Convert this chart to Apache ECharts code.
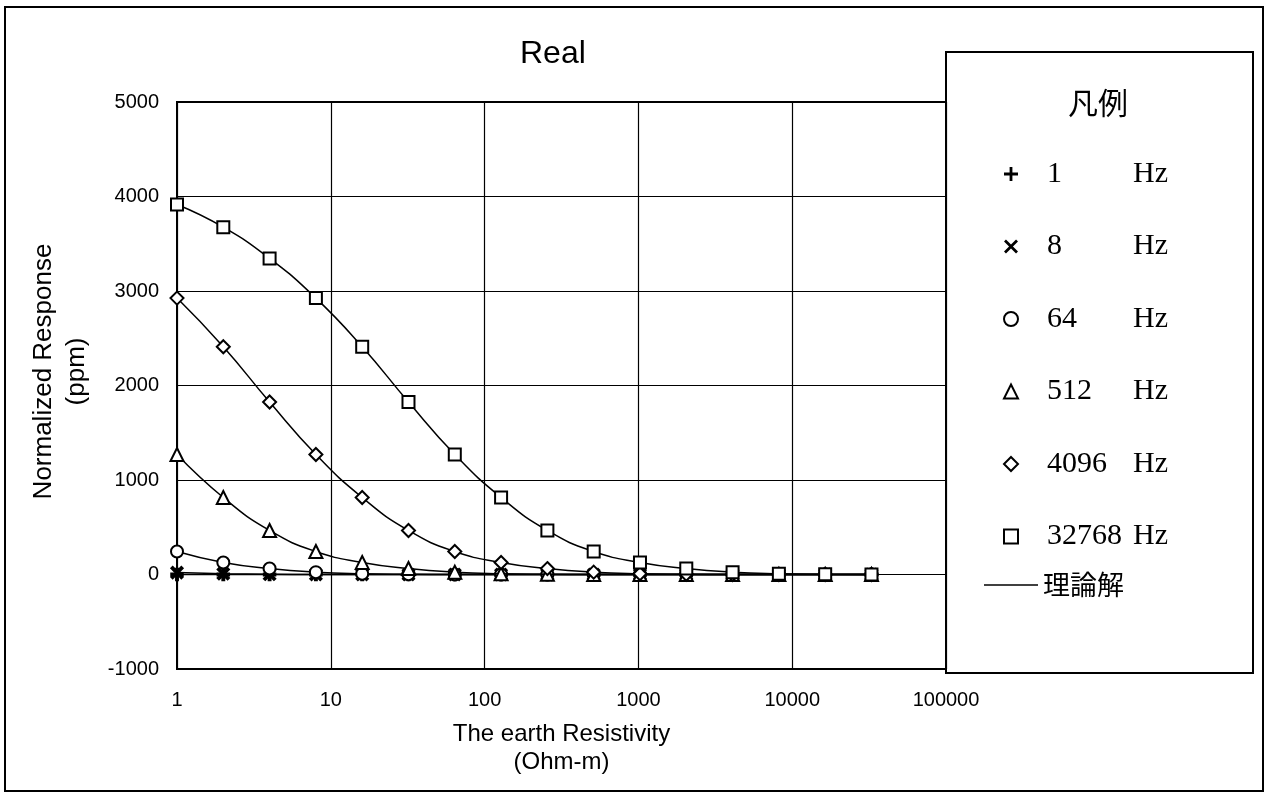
<!DOCTYPE html>
<html>
<head>
<meta charset="utf-8">
<script src="https://cdn.jsdelivr.net/npm/echarts@6/dist/echarts.min.js"></script>
<style>
html,body{margin:0;padding:0;background:#fff;}
#chart{width:1267px;height:794px;}
</style>
</head>
<body>
<div id="chart"></div>
<script>
// ---- data ----
const resistivity = [1, 2, 4, 8, 16, 32, 64, 128, 256, 512, 1024, 2048, 4096, 8192, 16384, 32768];
const freqLabels = ['1', '8', '64', '512', '4096', '32768'];
const hz1     = [0, 0, 0, 0, 0, 0, 0, 0, 0, 0, 0, 0, 0, 0, 0, 0];
const hz8     = [20, 8, 2, 0, 0, 0, 0, 0, 0, 0, 0, 0, 0, 0, 0, 0];
const hz64    = [243, 127, 63, 25, 8, 2, 0, 0, 0, 0, 0, 0, 0, 0, 0, 0];
const hz512   = [1270, 815, 466, 243, 127, 63, 25, 8, 2, 0, 0, 0, 0, 0, 0, 0];
const hz4096  = [2925, 2410, 1825, 1270, 815, 466, 243, 127, 63, 25, 8, 2, 0, 0, 0, 0];
const hz32768 = [3915, 3675, 3345, 2925, 2410, 1825, 1270, 815, 466, 243, 127, 63, 25, 8, 2, 0];
const yTicks = [-1000, 0, 1000, 2000, 3000, 4000, 5000];
const xTicks = [1, 10, 100, 1000, 10000, 100000];
const titleText = 'Real';
const legendTitle = '凡例';
const theoryName = '理論解';

// ---- styles ----
const PLUS = 'path://M4,0H6V4H10V6H6V10H4V6H0V4H4Z';
const CROSS = 'path://M1.4,0L5,3.6L8.6,0L10,1.4L6.4,5L10,8.6L8.6,10L5,6.4L1.4,10L0,8.6L3.6,5L0,1.4Z';
const seriesValues = [hz1, hz8, hz64, hz512, hz4096, hz32768];
const seriesSymbols = [PLUS, CROSS, 'emptyCircle', 'emptyTriangle', 'emptyDiamond', 'emptyRect'];
const legendIcons = [PLUS, CROSS, 'circle', 'triangle', 'diamond', 'rect'];
const seriesSizes = [12, 12, 12, 13, 13, 12];

const names = freqLabels.map(f => f + ' Hz');
const series = seriesValues.map((vals, i) => ({
  name: names[i],
  type: 'line',
  data: resistivity.map((r, j) => [r, vals[j]]),
  smooth: 0.5,
  symbol: seriesSymbols[i],
  symbolSize: seriesSizes[i],
  showSymbol: true,
  lineStyle: { color: '#000', width: 1.5 },
  itemStyle: { color: '#000', borderColor: '#000', borderWidth: 1.5 },
  emphasis: { disabled: true },
  z: 2 + i
}));
series.push({
  name: theoryName, type: 'line', data: [],
  lineStyle: { color: '#000', width: 1.5 }, itemStyle: { color: '#000' }
});

const legendData = names.map((n, i) => ({
  name: n,
  icon: legendIcons[i],
  itemStyle: i < 2 ? { color: '#000', borderWidth: 0 } : { color: '#fff', borderColor: '#000', borderWidth: 2 }
}));

const chart = echarts.init(document.getElementById('chart'), null, { renderer: 'canvas' });
chart.setOption({
  animation: false,
  backgroundColor: '#fff',
  title: {
    text: titleText, left: 515, top: 33,
    textStyle: { fontFamily: 'Liberation Sans', fontSize: 32, fontWeight: 'normal', color: '#000' }
  },
  grid: {
    left: 177, top: 102, width: 769, height: 567,
    show: true, borderColor: '#000', borderWidth: 2, backgroundColor: 'transparent'
  },
  xAxis: {
    type: 'log', logBase: 10, min: xTicks[0], max: xTicks[xTicks.length - 1],
    name: 'The earth Resistivity\n(Ohm-m)', nameLocation: 'middle', nameGap: 51,
    nameTextStyle: { fontFamily: 'Liberation Sans', fontSize: 24, color: '#000', lineHeight: 28, verticalAlign: 'top' },
    axisLine: { show: true, onZero: false, lineStyle: { color: '#000', width: 2 } },
    axisTick: { show: false },
    axisLabel: { margin: 21, fontFamily: 'Liberation Sans', fontSize: 20, color: '#000', formatter: v => String(v) },
    splitLine: { show: true, lineStyle: { color: '#000', width: 1.2 } },
    minorSplitLine: { show: false }
  },
  yAxis: {
    type: 'value', min: yTicks[0], max: yTicks[yTicks.length - 1], interval: 1000,
    name: 'Normalized Response\n(ppm)', nameLocation: 'middle', nameGap: 84,
    nameTextStyle: { fontFamily: 'Liberation Sans', fontSize: 26, color: '#000', lineHeight: 33, padding: [0, 0, 0, 28] },
    axisLine: { show: true, lineStyle: { color: '#000', width: 2 } },
    axisTick: { show: false },
    axisLabel: { margin: 18, fontFamily: 'Liberation Sans', fontSize: 20, color: '#000', formatter: v => String(v) },
    splitLine: { show: true, lineStyle: { color: '#000', width: 1.2 } }
  },
  legend: [
    {
      orient: 'vertical', left: 1003, top: 159, padding: 0, itemWidth: 14, itemHeight: 14, itemGap: 42.5,
      selectedMode: false, data: legendData,
      formatter: n => '{s|}{n|' + n.replace(' Hz', '') + '}{h|Hz}',
      textStyle: {
        color: '#000', fontFamily: 'Liberation Serif', fontSize: 30, lineHeight: 30,
        rich: {
          s: { width: 24, fontSize: 30, lineHeight: 30 },
          n: { width: 86, fontFamily: 'Liberation Serif', fontSize: 30, lineHeight: 30, color: '#000' },
          h: { fontFamily: 'Liberation Serif', fontSize: 30, lineHeight: 30, color: '#000' }
        }
      }
    },
    {
      orient: 'vertical', left: 984, top: 569, padding: 0, itemWidth: 54, itemHeight: 12,
      selectedMode: false,
      data: [{ name: theoryName, icon: 'path://M0,0H54V1.5H0Z', itemStyle: { color: '#000', borderWidth: 0 } }],
      textStyle: { color: '#000', fontFamily: 'Noto Sans CJK JP', fontSize: 27, lineHeight: 32 }
    }
  ],
  graphic: [
    { type: 'rect', shape: { x: 5, y: 7, width: 1258, height: 784 }, style: { fill: 'none', stroke: '#000', lineWidth: 2 }, silent: true, z: -1 },
    { type: 'rect', shape: { x: 946, y: 52, width: 307, height: 621 }, style: { fill: '#fff', stroke: '#000', lineWidth: 2 }, silent: true, z: -1 },
    { type: 'text', left: 1068, top: 88, style: { text: legendTitle, fontFamily: 'Noto Sans CJK JP', fontSize: 30, fill: '#000' }, silent: true }
  ],
  series: series
});
</script>
</body>
</html>
